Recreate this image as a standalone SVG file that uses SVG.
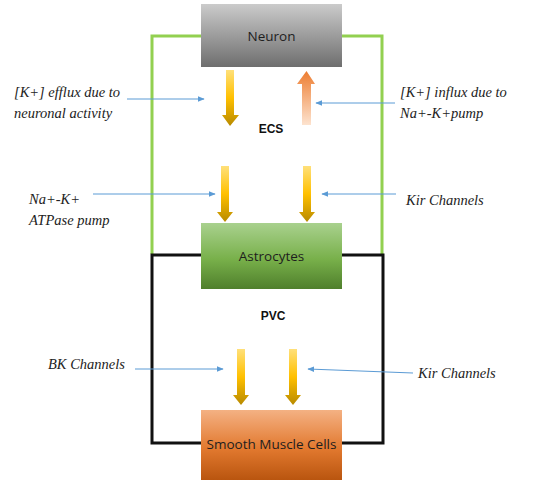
<svg xmlns="http://www.w3.org/2000/svg" width="538" height="483" viewBox="0 0 538 483">
  <defs>
    <linearGradient id="gNeuron" x1="0" y1="0" x2="0" y2="1">
      <stop offset="0" stop-color="#cbcbcb"/>
      <stop offset="1" stop-color="#6e6e6e"/>
    </linearGradient>
    <linearGradient id="gAstro" x1="0" y1="0" x2="0" y2="1">
      <stop offset="0" stop-color="#a9d18e"/>
      <stop offset="0.55" stop-color="#78b04a"/>
      <stop offset="1" stop-color="#4f7f2c"/>
    </linearGradient>
    <linearGradient id="gSmc" x1="0" y1="0" x2="0" y2="1">
      <stop offset="0" stop-color="#f4b183"/>
      <stop offset="0.55" stop-color="#e2792f"/>
      <stop offset="1" stop-color="#b9550f"/>
    </linearGradient>
    <linearGradient id="gDown" x1="0" y1="0" x2="0" y2="1">
      <stop offset="0" stop-color="#ffe07a"/>
      <stop offset="0.5" stop-color="#ffc000"/>
      <stop offset="1" stop-color="#b88a00"/>
    </linearGradient>
    <linearGradient id="gUp" x1="0" y1="0" x2="0" y2="1">
      <stop offset="0" stop-color="#ed7d31"/>
      <stop offset="1" stop-color="#fde3cf"/>
    </linearGradient>
    <marker id="tip" viewBox="0 0 10 10" refX="9" refY="5" markerWidth="7" markerHeight="7" markerUnits="userSpaceOnUse" orient="auto">
      <path d="M0,1 L10,5 L0,9 z" fill="#5b9bd5"/>
    </marker>
  </defs>
  <style>
    .box-label { font-family: "Open Sans", "Liberation Sans", sans-serif; font-size: 13.5px; fill: #1e1e1e; text-anchor: middle; }
    .zone { font-family: "Liberation Sans", sans-serif; font-size: 12px; font-weight: bold; fill: #111; text-anchor: middle; }
    .note { font-family: "Liberation Serif", serif; font-style: italic; font-size: 14.5px; fill: #222; }
    .pointer { stroke: #5b9bd5; stroke-width: 1; fill: none; marker-end: url(#tip); }
    .loop-green { stroke: #92d050; stroke-width: 3; fill: none; }
    .loop-black { stroke: #111; stroke-width: 3; fill: none; }
  </style>

  <rect width="538" height="483" fill="#ffffff"/>

  <!-- compartment outlines -->
  <g id="compartments">
    <polyline class="loop-green" points="201,36 152,36 152,254"/>
    <polyline class="loop-green" points="342,36 382,36 382,254"/>
    <polyline class="loop-black" points="201,255 152,255 152,443 201,443"/>
    <polyline class="loop-black" points="342,255 383,255 383,443 342,443"/>
  </g>

  <!-- nodes -->
  <g id="neuron">
    <rect x="201" y="4" width="141" height="63" fill="url(#gNeuron)"/>
    <text class="box-label" x="271.5" y="41">Neuron</text>
  </g>
  <g id="astrocytes">
    <rect x="201" y="223" width="141" height="66" fill="url(#gAstro)"/>
    <text class="box-label" x="271.5" y="261">Astrocytes</text>
  </g>
  <g id="smooth-muscle">
    <rect x="201" y="410" width="141" height="70" fill="url(#gSmc)"/>
    <text class="box-label" x="271.5" y="449">Smooth Muscle Cells</text>
  </g>

  <!-- compartment labels -->
  <g id="labels">
    <text class="zone" x="271" y="133">ECS</text>
    <text class="zone" x="273" y="320">PVC</text>
  </g>

  <!-- flux arrows and pointers -->
  <g id="connectors">
    <!-- neuron -> ECS -->
    <path d="M226,70 H234 V115 H239 L230,126 L222,115 H226 Z" fill="url(#gDown)"/>
    <!-- ECS -> neuron -->
    <path d="M302,125 H311 V84 H315 L306.5,71 L297,84 H302 Z" fill="url(#gUp)"/>
    <!-- ECS -> astrocytes -->
    <path d="M221,166 H229 V212 H233 L225,222 L217,212 H221 Z" fill="url(#gDown)"/>
    <path d="M303,166 H311 V212 H315 L307,222 L299,212 H303 Z" fill="url(#gDown)"/>
    <!-- astrocytes -> smooth muscle -->
    <path d="M237,349 H245 V395 H249 L241,405 L233,395 H237 Z" fill="url(#gDown)"/>
    <path d="M289,349 H297 V395 H301 L293,405 L285,395 H289 Z" fill="url(#gDown)"/>

    <line class="pointer" x1="127" y1="99" x2="204" y2="99"/>
    <line class="pointer" x1="395" y1="103" x2="316" y2="103"/>
    <line class="pointer" x1="93" y1="194" x2="215" y2="194"/>
    <line class="pointer" x1="396" y1="194" x2="322" y2="194"/>
    <line class="pointer" x1="135" y1="369" x2="223" y2="369"/>
    <line class="pointer" x1="413" y1="373" x2="308" y2="369"/>
  </g>

  <!-- annotations -->
  <g id="notes">
    <text class="note" x="14" y="97">[K+] efflux due to</text>
    <text class="note" x="14" y="118">neuronal activity</text>
    <text class="note" x="400" y="97">[K+] influx due to</text>
    <text class="note" x="400" y="118">Na+-K+pump</text>
    <text class="note" x="29" y="204">Na+-K+</text>
    <text class="note" x="29" y="225">ATPase pump</text>
    <text class="note" x="406" y="205">Kir Channels</text>
    <text class="note" x="48" y="369">BK Channels</text>
    <text class="note" x="418" y="378">Kir Channels</text>
  </g>
</svg>
